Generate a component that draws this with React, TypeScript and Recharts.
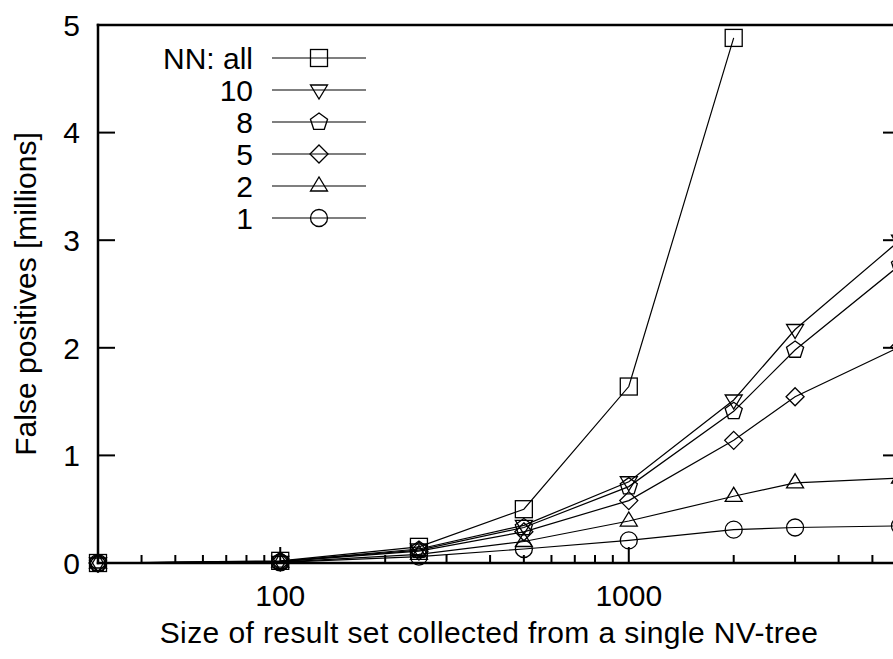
import React from 'react';
import { LineChart, Line, XAxis, YAxis, Legend } from 'recharts';

// result set sizes (x) and false positives in millions per NN setting
const sizes = [30, 100, 250, 500, 1000, 2000, 3000, 6000];
const nnAll = [0, 0.02, 0.15, 0.5, 1.64, 4.88, null, null];
const nn10 = [0, 0.015, 0.13, 0.35, 0.755, 1.515, 2.17, 3.0];
const nn8 = [0, 0.015, 0.12, 0.33, 0.71, 1.41, 1.98, 2.77];
const nn5 = [0, 0.012, 0.11, 0.29, 0.58, 1.14, 1.545, 2.01];
const nn2 = [0, 0.008, 0.08, 0.2, 0.39, 0.62, 0.745, 0.79];
const nn1 = [0, 0.005, 0.06, 0.13, 0.21, 0.31, 0.33, 0.345];

const seriesNames = ['NN: all', '10', '8', '5', '2', '1'];
const seriesKeys = ['all', 'n10', 'n8', 'n5', 'n2', 'n1'];
const seriesShapes = ['square', 'triDown', 'pentagon', 'diamond', 'triUp', 'circle'];
const seriesValues = [nnAll, nn10, nn8, nn5, nn2, nn1];

const xTicks = [30, 40, 50, 60, 70, 80, 90, 100, 200, 300, 400, 500, 600, 700, 800, 900, 1000, 2000, 3000, 4000, 5000, 6000];
const xMajor = [100, 1000];
const yTicks = [0, 1, 2, 3, 4, 5];

const data = sizes.map((size, i) => {
  const row: any = { size };
  seriesKeys.forEach((k, s) => {
    row[k] = seriesValues[s][i];
  });
  return row;
});

const FONT = '"Liberation Sans", Arial, Helvetica, sans-serif';
const FS = 30;
const axisStyle = { stroke: '#000', strokeWidth: 2.5, strokeLinecap: 'square' as const };

function Marker({ shape, cx, cy }: { shape: string; cx: number; cy: number }) {
  const s = 8.5;
  const common = { fill: 'none', stroke: '#000', strokeWidth: 1.3 };
  switch (shape) {
    case 'square':
      return <rect x={cx - s} y={cy - s} width={2 * s} height={2 * s} {...common} />;
    case 'circle':
      return <circle cx={cx} cy={cy} r={s} {...common} />;
    case 'triDown':
      return <polygon points={`${cx - s},${cy - 5} ${cx + s},${cy - 5} ${cx},${cy + 9}`} {...common} />;
    case 'triUp':
      return <polygon points={`${cx - s},${cy + 5} ${cx + s},${cy + 5} ${cx},${cy - 9}`} {...common} />;
    case 'diamond':
      return <polygon points={`${cx},${cy - 9} ${cx + 9},${cy} ${cx},${cy + 9} ${cx - 9},${cy}`} {...common} />;
    case 'pentagon': {
      const pts = [0, 1, 2, 3, 4]
        .map((k) => {
          const a = ((-90 + 72 * k) * Math.PI) / 180;
          return `${cx + 9 * Math.cos(a)},${cy + 9 * Math.sin(a)}`;
        })
        .join(' ');
      return <polygon points={pts} {...common} />;
    }
    default:
      return null;
  }
}

const makeDot = (shape: string) => (props: any) => {
  const { cx, cy, key, index } = props;
  if (cx == null || cy == null || props.value == null) return <g key={key ?? index} />;
  return (
    <g key={key ?? index}>
      <Marker shape={shape} cx={cx} cy={cy} />
    </g>
  );
};

const bottomTick = (props: any) => {
  const { x, y, payload } = props;
  const major = xMajor.includes(payload.value);
  const len = major ? 16 : 8;
  return (
    <g>
      <line x1={x} y1={y} x2={x} y2={y - len} stroke="#000" strokeWidth={2} />
      {major && (
        <text x={x} y={y + 43} textAnchor="middle" fontFamily={FONT} fontSize={FS} fill="#000">
          {payload.value}
        </text>
      )}
    </g>
  );
};

const topTick = (props: any) => {
  const { x, y, payload } = props;
  const len = xMajor.includes(payload.value) ? 16 : 8;
  return <line x1={x} y1={y} x2={x} y2={y + len} stroke="#000" strokeWidth={2} />;
};

const leftTick = (props: any) => {
  const { x, y, payload } = props;
  return (
    <g>
      <line x1={x} y1={y} x2={x + 17} y2={y} stroke="#000" strokeWidth={2} />
      <text x={x - 18} y={y} dy="0.36em" textAnchor="end" fontFamily={FONT} fontSize={FS} fill="#000">
        {payload.value}
      </text>
    </g>
  );
};

const rightTick = (props: any) => {
  const { x, y } = props;
  return <line x1={x} y1={y} x2={x - 17} y2={y} stroke="#000" strokeWidth={2} />;
};

const xTitle = (props: any) => {
  const vb = props.viewBox;
  return (
    <text
      x={vb.x + vb.width / 2 - 10}
      y={vb.y + 80}
      textAnchor="middle"
      fontFamily={FONT}
      fontSize={FS}
      letterSpacing={0.4}
      fill="#000"
    >
      Size of result set collected from a single NV-tree
    </text>
  );
};

const yTitle = (props: any) => {
  const vb = props.viewBox;
  const cy = vb.y + vb.height / 2;
  return (
    <text x={36} y={cy} transform={`rotate(-90, 36, ${cy})`} textAnchor="middle" fontFamily={FONT} fontSize={FS} fill="#000">
      False positives [millions]
    </text>
  );
};

const renderLegend = () => (
  <svg width={380} height={240} style={{ display: 'block' }}>
    {seriesNames.map((name, i) => {
      const cy = 58 + i * 32;
      return (
        <g key={name}>
          <text x={253} y={cy} dy="0.36em" textAnchor="end" fontFamily={FONT} fontSize={FS} fill="#000">
            {name}
          </text>
          <line x1={272} y1={cy} x2={366} y2={cy} stroke="#000" strokeWidth={1.2} />
          <Marker shape={seriesShapes[i]} cx={319} cy={cy} />
        </g>
      );
    })}
  </svg>
);

export default function App() {
  return (
    <div style={{ position: 'absolute', left: 0, top: 0, width: 893, height: 659, overflow: 'hidden', background: '#fff' }}>
      <LineChart width={920} height={659} data={data} margin={{ top: 0, right: 0, bottom: 0, left: 0 }}>
        <XAxis
          dataKey="size"
          type="number"
          scale="log"
          domain={[30, 6000]}
          ticks={xTicks}
          interval={0}
          height={96}
          tickSize={0}
          tickMargin={0}
          tickLine={false}
          tick={bottomTick}
          axisLine={axisStyle}
          label={xTitle}
        />
        <XAxis
          xAxisId="top"
          orientation="top"
          type="number"
          scale="log"
          domain={[30, 6000]}
          allowDataOverflow
          ticks={xTicks}
          interval={0}
          height={25}
          tickSize={0}
          tickMargin={0}
          tickLine={false}
          tick={topTick}
          axisLine={axisStyle}
        />
        <YAxis
          type="number"
          domain={[0, 5]}
          ticks={yTicks}
          interval={0}
          width={98}
          tickSize={0}
          tickMargin={0}
          tickLine={false}
          tick={leftTick}
          axisLine={axisStyle}
          label={yTitle}
        />
        <YAxis
          yAxisId="right"
          orientation="right"
          type="number"
          domain={[0, 5]}
          allowDataOverflow
          ticks={yTicks}
          interval={0}
          width={20}
          tickSize={0}
          tickMargin={0}
          tickLine={false}
          tick={rightTick}
          axisLine={axisStyle}
        />
        <Legend
          layout="horizontal"
          verticalAlign="middle"
          align="center"
          content={renderLegend}
          wrapperStyle={{ left: 0, top: 0, width: 380, height: 240 }}
        />
        {seriesKeys.map((k, i) => (
          <Line
            key={k}
            dataKey={k}
            name={seriesNames[i]}
            stroke="#000"
            strokeWidth={1.2}
            dot={makeDot(seriesShapes[i])}
            activeDot={false}
            isAnimationActive={false}
          />
        ))}
      </LineChart>
    </div>
  );
}
